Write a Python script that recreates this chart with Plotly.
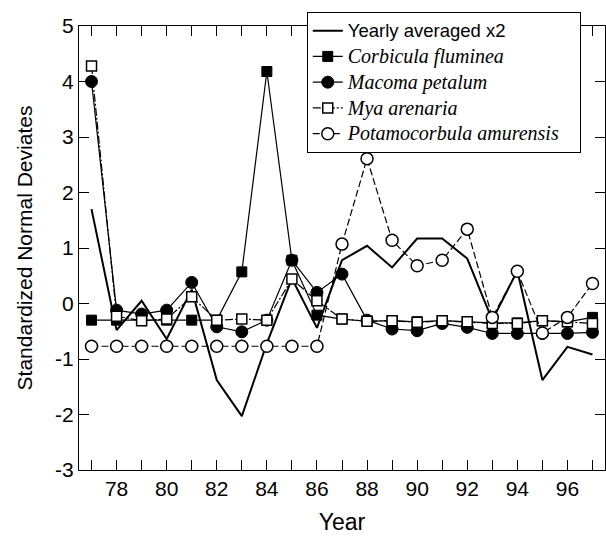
import plotly.graph_objects as go

years = list(range(1977, 1998))
year_short = [y - 1900 for y in years]

yearly_avg_x2 = [1.70, -0.48, 0.05, -0.64, 0.25, -1.38, -2.03, -0.72, 0.45, -0.44,
                 0.78, 1.04, 0.65, 1.17, 1.17, 0.81, -0.30, 0.59, -1.38, -0.78, -0.92]
corbicula = [-0.30, -0.30, -0.30, -0.30, -0.30, -0.30, 0.57, 4.18, 0.78, -0.21,
             -0.28, -0.32, -0.31, -0.33, -0.31, -0.33, -0.35, -0.35, -0.31, -0.33, -0.25]
macoma = [4.00, -0.12, -0.19, -0.12, 0.38, -0.42, -0.51, -0.30, 0.78, 0.20,
          0.53, -0.30, -0.46, -0.49, -0.36, -0.43, -0.54, -0.54, -0.54, -0.54, -0.52]
mya = [4.28, -0.23, -0.31, -0.28, 0.12, -0.30, -0.28, -0.30, 0.44, 0.05,
       -0.28, -0.32, -0.31, -0.34, -0.31, -0.33, -0.36, -0.36, -0.31, -0.33, -0.36]
potamocorbula = [-0.77, -0.77, -0.77, -0.77, -0.77, -0.77, -0.77, -0.77, -0.77, -0.77,
                 1.07, 2.61, 1.14, 0.68, 0.78, 1.34, -0.25, 0.58, -0.53, -0.25, 0.36]

x_tick_vals = year_short
x_tick_text = [str(v) if v % 2 == 0 else "" for v in year_short]
y_tick_vals = [-3, -2, -1, 0, 1, 2, 3, 4, 5]
y_tick_text = [str(v) for v in y_tick_vals]

serif = "Liberation Serif, Times New Roman, serif"
sans = "Liberation Sans, Arial, sans-serif"


def sans_name(t):
    return f'<span style="font-family:Liberation Sans, Arial, sans-serif;font-size:18.5px">{t}</span>'


def serif_name(t, pad=""):
    return (f'<span style="font-family:Liberation Serif, Times New Roman, serif;font-size:20px">'
            f'<i>{t}</i>{pad}</span>')


fig = go.Figure()
fig.add_trace(go.Scatter(
    x=year_short, y=yearly_avg_x2, mode="lines",
    name=sans_name("Yearly averaged x2"),
    line=dict(color="black", width=2)))
fig.add_trace(go.Scatter(
    x=year_short, y=corbicula, mode="lines+markers", name=serif_name("Corbicula fluminea"),
    line=dict(color="black", width=1.2),
    marker=dict(symbol="square", size=10, color="black", line=dict(color="black", width=1))))
fig.add_trace(go.Scatter(
    x=year_short, y=macoma, mode="lines+markers", name=serif_name("Macoma petalum"),
    line=dict(color="black", width=1.2),
    marker=dict(symbol="circle", size=12, color="black", line=dict(color="black", width=1))))
fig.add_trace(go.Scatter(
    x=year_short, y=mya, mode="lines+markers", name=serif_name("Mya arenaria"),
    line=dict(color="black", width=1.2, dash="8px,2px,2px,2px"),
    marker=dict(symbol="square", size=10, color="white", line=dict(color="black", width=1.5))))
fig.add_trace(go.Scatter(
    x=year_short, y=potamocorbula, mode="lines+markers",
    name=serif_name("Potamocorbula amurensis", "&nbsp;&nbsp;&nbsp;"),
    line=dict(color="black", width=1.2, dash="7px,3px"),
    marker=dict(symbol="circle", size=12, color="white", line=dict(color="black", width=1.5))))

fig.update_layout(
    width=606, height=538,
    margin=dict(l=79, r=1, t=26, b=68, autoexpand=False),
    paper_bgcolor="white", plot_bgcolor="white",
    font=dict(family=sans, color="black", size=20),
    showlegend=True,
    legend=dict(
        x=0.433, y=1.032, xanchor="left", yanchor="top",
        bgcolor="white", bordercolor="black", borderwidth=1,
        font=dict(family=serif, size=17.5, color="black"),
        tracegroupgap=0, itemwidth=30,
    ),
    xaxis=dict(
        range=[76.5, 97.5], tickvals=x_tick_vals, ticktext=x_tick_text,
        ticks="inside", ticklen=10, tickcolor="black", tickwidth=1,
        showline=True, linecolor="black", linewidth=1, mirror="ticks",
        showgrid=False, zeroline=False, automargin=False,
        title=dict(text="Year", font=dict(size=23, family=sans), standoff=14),
        tickfont=dict(size=21, family=sans),
    ),
    yaxis=dict(
        range=[-3, 5], tickvals=y_tick_vals, ticktext=y_tick_text,
        ticks="inside", ticklen=10, tickcolor="black", tickwidth=1,
        showline=True, linecolor="black", linewidth=1, mirror="ticks",
        showgrid=False, zeroline=False, automargin=False,
        title=dict(text="Standardized Normal Deviates", font=dict(size=21, family=sans), standoff=16),
        tickfont=dict(size=21, family=sans),
    ),
)

fig.write_html("out.html", config={"displayModeBar": False},
               post_script="document.body.style.margin='0';")
